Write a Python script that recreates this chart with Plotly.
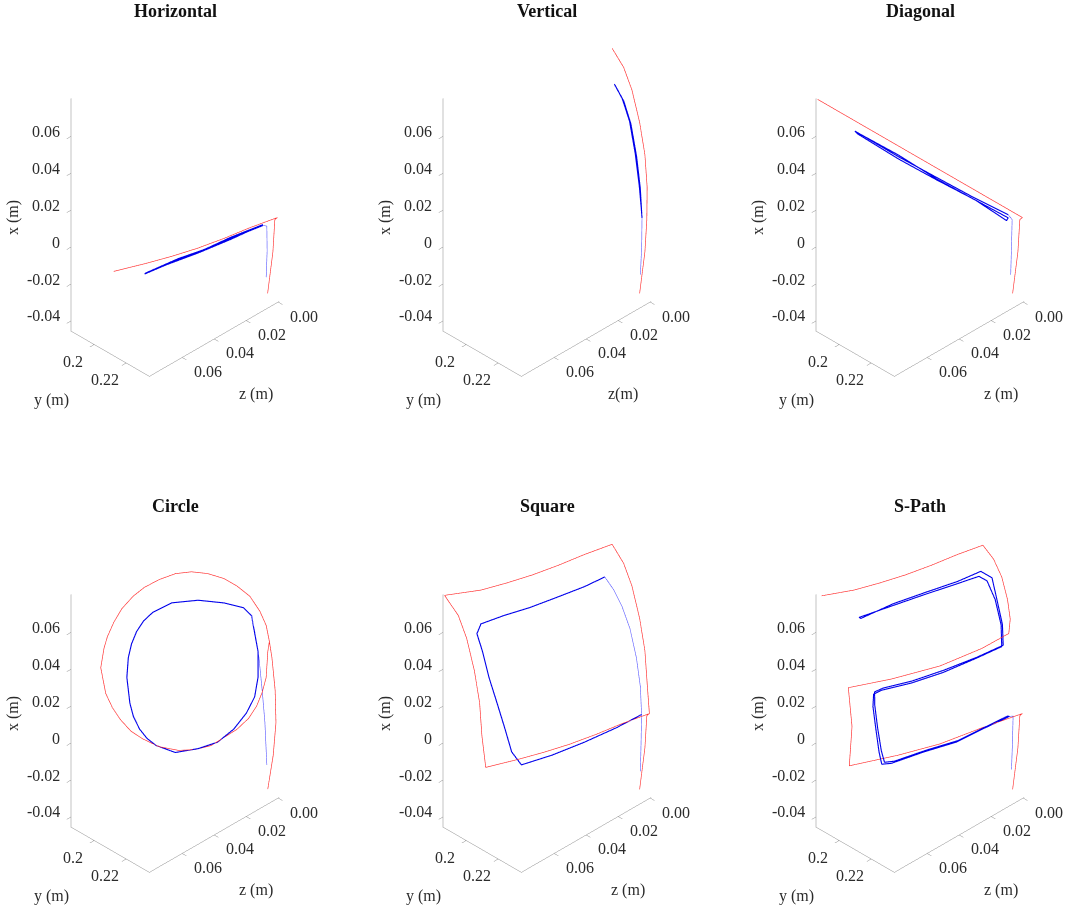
import plotly.graph_objects as go

# ---------------- data (metres) ----------------
APP_REF_X = [-0.0441, -0.0200, -0.0019, 0.0000]
APP_REF_Y = [0.2279, 0.2312, 0.2324, 0.2340]
APP_REF_Z = [0.0, 0.0, 0.0, 0.0]

H_REF_X = [-0.0007, -0.0019, -0.0026, -0.0026, -0.0022, -0.0013]
H_REF_Y = [0.2302, 0.2267, 0.2231, 0.2194, 0.2156, 0.2107]
H_REF_Z = [0.0134, 0.0261, 0.0388, 0.0513, 0.0636, 0.0790]
H_APP_X = [-0.0358, -0.0212, -0.0079, -0.0015]
H_APP_Y = [0.2270, 0.2276, 0.2274, 0.2323]
H_APP_Z = [0.0, 0.0, 0.0, 0.0073]
H_ACT_X = [-0.0015, -0.0027, -0.0043, -0.0053, -0.0067, -0.0064, -0.0045, -0.0041,
           -0.0023, -0.0011, -0.0032, -0.0047, -0.0056, -0.0066]
H_ACT_Y = [0.2323, 0.2279, 0.2236, 0.2191, 0.2164, 0.2165, 0.2208, 0.2244,
           0.2278, 0.2322, 0.2280, 0.2237, 0.2192, 0.2166]
H_ACT_Z = [0.0073, 0.0232, 0.0391, 0.0550, 0.0654, 0.0646, 0.0486, 0.0360,
           0.0231, 0.0072, 0.0233, 0.0392, 0.0550, 0.0646]

V_REF_X = [-0.0441, -0.0200, -0.0019, 0.0157, 0.0326, 0.0485, 0.0636, 0.0733, 0.0800]
V_REF_Y = [0.2279, 0.2312, 0.2324, 0.2326, 0.2312, 0.2279, 0.2231, 0.2179, 0.2107]
V_REF_Z = [0.0] * 9
V_APP_X = [-0.0337, -0.0175, -0.0025]
V_APP_Y = [0.2284, 0.2292, 0.2294]
V_APP_Z = [0.0, 0.0, 0.0]
V_ACT_X = [-0.0025, 0.0134, 0.0297, 0.0455, 0.0555, 0.0613, 0.0550, 0.0450, 0.0290,
           0.0130, 0.0000, 0.0140, 0.0300, 0.0460, 0.0560, 0.0610]
V_ACT_Y = [0.2294, 0.2279, 0.2255, 0.2219, 0.2174, 0.2121, 0.2180, 0.2224, 0.2260,
           0.2283, 0.2292, 0.2277, 0.2252, 0.2216, 0.2170, 0.2125]
V_ACT_Z = [0.0] * 16

D_REF_X = [0.0400, 0.0800]
D_REF_Y = [0.2100, 0.1860]
D_REF_Z = [0.0400, 0.0800]
D_APP_X = [-0.0346, -0.0186, -0.0043, 0.0032]
D_APP_Y = [0.2267, 0.2272, 0.2276, 0.2312]
D_APP_Z = [0.0, 0.0, 0.0, 0.0061]
D_ACT_X = [0.0032, 0.0159, 0.0293, 0.0439, 0.0609, 0.0594, 0.0429, 0.0282, 0.0140,
           0.0008, 0.0018, 0.0152, 0.0286, 0.0446, 0.0603]
D_ACT_Y = [0.2312, 0.2231, 0.2149, 0.2059, 0.1958, 0.1965, 0.2062, 0.2152, 0.2240,
           0.2315, 0.2315, 0.2233, 0.2151, 0.2058, 0.1961]
D_ACT_Z = [0.0061, 0.0203, 0.0344, 0.0497, 0.0664, 0.0656, 0.0499, 0.0346, 0.0192,
           0.0074, 0.0064, 0.0205, 0.0345, 0.0495, 0.0659]

C_REF_X = [-0.0439, -0.0238, -0.0054, 0.0119, 0.0284,
           0.0365, 0.0442, 0.0501, 0.0549, 0.0616, 0.0667, 0.0711, 0.0741, 0.0755,
           0.0751, 0.0737, 0.0713, 0.0674, 0.0625, 0.0570, 0.0524, 0.0443, 0.0323,
           0.0251, 0.0189, 0.0123, 0.0072, 0.0016, -0.0027, -0.0046, -0.0050, -0.0014,
           0.0018, 0.0060, 0.0114, 0.0161, 0.0306, 0.0365]
C_REF_Y = [0.2280, 0.2314, 0.2331, 0.2326, 0.2306,
           0.2290, 0.2270, 0.2229, 0.2168, 0.2140, 0.2109, 0.2075, 0.2045, 0.2019,
           0.1996, 0.1978, 0.1967, 0.1960, 0.1960, 0.1963, 0.1969, 0.1983, 0.2018,
           0.2044, 0.2070, 0.2100, 0.2129, 0.2166, 0.2204, 0.2232, 0.2256, 0.2285,
           0.2294, 0.2296, 0.2292, 0.2270, 0.2280, 0.2290]
C_REF_Z = [0.0, 0.0, 0.0, 0.0, 0.0,
           0.0, 0.0, 0.0, 0.0, 0.0052, 0.0103, 0.0171, 0.0242, 0.0316,
           0.0395, 0.0469, 0.0529, 0.0592, 0.0643, 0.0686, 0.0713, 0.0747, 0.0751,
           0.0735, 0.0712, 0.0676, 0.0630, 0.0565, 0.0481, 0.0406, 0.0331, 0.0198,
           0.0134, 0.0087, 0.0047, 0.0, 0.0, 0.0]
C_APP_X = [-0.0311, -0.0088, 0.0078, 0.0244, 0.0371, 0.0449]
C_APP_Y = [0.2274, 0.2262, 0.2245, 0.2225, 0.2199, 0.2179]
C_APP_Z = [0.0, 0.0, 0.0, 0.0, 0.0, 0.0]
C_ACT_X = [0.0449, 0.0512, 0.0560, 0.0607, 0.0631, 0.0615, 0.0591, 0.0552, 0.0505,
           0.0449, 0.0365, 0.0247, 0.0184, 0.0120, 0.0069, 0.0026, -0.0032, -0.0046,
           -0.0044, -0.0009, 0.0045, 0.0105, 0.0186, 0.0300, 0.0402, 0.0449]
C_ACT_Y = [0.2179, 0.2173, 0.2134, 0.2086, 0.2042, 0.2018, 0.2011, 0.2009, 0.2013,
           0.2021, 0.2039, 0.2070, 0.2090, 0.2114, 0.2136, 0.2159, 0.2200, 0.2236,
           0.2264, 0.2279, 0.2285, 0.2283, 0.2269, 0.2243, 0.2189, 0.2179]
C_ACT_Z = [0.0, 0.0045, 0.0128, 0.0241, 0.0361, 0.0458, 0.0507, 0.0550, 0.0585,
           0.0613, 0.0640, 0.0652, 0.0650, 0.0635, 0.0611, 0.0578, 0.0498, 0.0392,
           0.0298, 0.0212, 0.0138, 0.0085, 0.0050, 0.0024, 0.0, 0.0]

S_REF_X = [-0.0007, -0.0019, -0.0026, -0.0026, -0.0022, -0.0013,
           0.0157, 0.0326, 0.0485, 0.0636, 0.0733, 0.0800,
           0.0778, 0.0774, 0.0774, 0.0781, 0.0793, 0.0800,
           0.0733, 0.0636, 0.0485, 0.0326, 0.0157, 0.0000]
S_REF_Y = [0.2302, 0.2267, 0.2231, 0.2194, 0.2156, 0.2107,
           0.2093, 0.2079, 0.2046, 0.1998, 0.1946, 0.1860,
           0.1923, 0.1961, 0.1998, 0.2034, 0.2069, 0.2107,
           0.2179, 0.2231, 0.2279, 0.2312, 0.2326, 0.2340]
S_REF_Z = [0.0134, 0.0261, 0.0388, 0.0513, 0.0636, 0.0790,
           0.0800, 0.0800, 0.0800, 0.0800, 0.0800, 0.0800,
           0.0636, 0.0513, 0.0388, 0.0261, 0.0134, 0.0,
           0.0, 0.0, 0.0, 0.0, 0.0, 0.0]
S_APP_X = [-0.0341, -0.0181, 0.0006, 0.0115, 0.0261, 0.0398, 0.0496, 0.0558, 0.0662]
S_APP_Y = [0.2284, 0.2288, 0.2327, 0.2284, 0.2259, 0.2219, 0.2168, 0.2118, 0.2123]
S_APP_Z = [0.0, 0.0, 0.0036, 0.0, 0.0, 0.0, 0.0, 0.0, 0.0062]
S_ACT_X = [0.0662, 0.0647, 0.0637, 0.0630, 0.0630, 0.0625, 0.0587, 0.0501, 0.0379,
           0.0254, 0.0128, 0.0020, -0.0051, -0.0050, -0.0037, -0.0017, 0.0006]
S_ACT_Y = [0.2123, 0.2097, 0.2057, 0.2022, 0.1984, 0.1953, 0.1956, 0.1984, 0.2021,
           0.2062, 0.2102, 0.2137, 0.2167, 0.2211, 0.2255, 0.2297, 0.2327]
S_ACT_Z = [0.0062, 0.0162, 0.0305, 0.0431, 0.0556, 0.0666, 0.0694, 0.0687, 0.0684,
           0.0674, 0.0664, 0.0658, 0.0627, 0.0479, 0.0320, 0.0160, 0.0036]

P_REF_X = [-0.0007, -0.0021, -0.0013, -0.0024, 0.0197, 0.0396,
           0.0331, 0.0322, 0.0342, 0.0391,
           0.0473, 0.0571, 0.0675, 0.0746, 0.0788,
           0.0793, 0.0781, 0.0774, 0.0774, 0.0778, 0.0800]
P_REF_Y = [0.2284, 0.2226, 0.2164, 0.2058, 0.2075, 0.2052,
           0.2075, 0.2147, 0.2203, 0.2255,
           0.2264, 0.2247, 0.2211, 0.2160, 0.2093,
           0.2069, 0.2034, 0.1998, 0.1961, 0.1923, 0.1875]
P_REF_Z = [0.0195, 0.0400, 0.0601, 0.0800, 0.0800, 0.0800,
           0.0553, 0.0321, 0.0114, 0.0,
           0.0, 0.0, 0.0, 0.0, 0.0,
           0.0134, 0.0261, 0.0388, 0.0513, 0.0636, 0.0790]
P_APP_X = [-0.0337, -0.0185, -0.0043, 0.0005]
P_APP_Y = [0.2272, 0.2278, 0.2282, 0.2320]
P_APP_Z = [0.0, 0.0, 0.0, 0.0060]
P_ACT_X = [0.0005, -0.0014, -0.0035, -0.0034, -0.0040, -0.0031, 0.0027, 0.0132, 0.0235,
           0.0289, 0.0295, 0.0286, 0.0289, 0.0306, 0.0323, 0.0414, 0.0532, 0.0632,
           0.0663, 0.0660, 0.0657, 0.0652, 0.0646,
           0.0640, 0.0662, 0.0668, 0.0672, 0.0680, 0.0640, 0.0540, 0.0420, 0.0330,
           0.0312, 0.0300, 0.0296, 0.0303, 0.0297, 0.0240, 0.0135, 0.0030, -0.0025,
           -0.0033, -0.0028, -0.0029, -0.0008, 0.0010]
P_ACT_Y = [0.2320, 0.2285, 0.2253, 0.2206, 0.2160, 0.2144, 0.2127, 0.2098, 0.2070,
           0.2059, 0.2069, 0.2113, 0.2159, 0.2202, 0.2236, 0.2207, 0.2170, 0.2143,
           0.2124, 0.2092, 0.2046, 0.2001, 0.1955,
           0.1960, 0.2004, 0.2049, 0.2094, 0.2120, 0.2150, 0.2180, 0.2215, 0.2240,
           0.2205, 0.2160, 0.2115, 0.2070, 0.2058, 0.2072, 0.2100, 0.2130, 0.2148,
           0.2165, 0.2210, 0.2256, 0.2288, 0.2318]
P_ACT_Z = [0.0060, 0.0196, 0.0326, 0.0481, 0.0639, 0.0683, 0.0683, 0.0674, 0.0664,
           0.0649, 0.0608, 0.0470, 0.0314, 0.0154, 0.0025, 0.0, 0.0, 0.0024,
           0.0056, 0.0166, 0.0322, 0.0479, 0.0636,
           0.0630, 0.0470, 0.0315, 0.0160, 0.0040, 0.0, 0.0, 0.0, 0.0020,
           0.0150, 0.0310, 0.0465, 0.0600, 0.0642, 0.0655, 0.0665, 0.0672, 0.0670,
           0.0625, 0.0470, 0.0320, 0.0190, 0.0065]

TITLES = ["Horizontal", "Vertical", "Diagonal", "Circle", "Square", "S-Path"]
Z_TITLES = ["z (m)", "z(m)", "z (m)", "z (m)", "z (m)", "z (m)"]
X_TICKS = [-0.04, -0.02, 0.0, 0.02, 0.04, 0.06]
X_TICKTEXT = ["-0.04", "-0.02", "0", "0.02", "0.04", "0.06"]
Y_TICKS = [0.2, 0.22]
Y_TICKTEXT = ["0.2", "0.22"]
Z_TICKS = [0.0, 0.02, 0.04, 0.06]
Z_TICKTEXT = ["0.00", "0.02", "0.04", "0.06"]
X_RANGE = [-0.0455, 0.0805]
Y_RANGE = [0.1855, 0.2345]
Z_RANGE = [-0.0005, 0.0805]

RED = "rgb(255,45,45)"
BLUE = "rgb(0,0,235)"
LIGHT_BLUE = "rgb(90,90,255)"

panels = [
    (APP_REF_X + H_REF_X, APP_REF_Y + H_REF_Y, APP_REF_Z + H_REF_Z,
     (H_APP_X, H_APP_Y, H_APP_Z), (H_ACT_X, H_ACT_Y, H_ACT_Z)),
    (V_REF_X, V_REF_Y, V_REF_Z,
     (V_APP_X, V_APP_Y, V_APP_Z), (V_ACT_X, V_ACT_Y, V_ACT_Z)),
    (APP_REF_X + D_REF_X, APP_REF_Y + D_REF_Y, APP_REF_Z + D_REF_Z,
     (D_APP_X, D_APP_Y, D_APP_Z), (D_ACT_X, D_ACT_Y, D_ACT_Z)),
    (C_REF_X, C_REF_Y, C_REF_Z,
     (C_APP_X, C_APP_Y, C_APP_Z), (C_ACT_X, C_ACT_Y, C_ACT_Z)),
    (APP_REF_X + S_REF_X, APP_REF_Y + S_REF_Y, APP_REF_Z + S_REF_Z,
     (S_APP_X, S_APP_Y, S_APP_Z), (S_ACT_X, S_ACT_Y, S_ACT_Z)),
    (APP_REF_X + P_REF_X, APP_REF_Y + P_REF_Y, APP_REF_Z + P_REF_Z,
     (P_APP_X, P_APP_Y, P_APP_Z), (P_ACT_X, P_ACT_Y, P_ACT_Z)),
]

FONT = "Liberation Serif"
TXT = "#2b2b2b"
W, H = 1065, 911

fig = go.Figure()

col_c = [175, 547, 920]
row_c = [200, 696]
half_w, half_h = 140, 190


def label(x, y, z, text, **kw):
    d = dict(x=x, y=y, z=z, text=text, showarrow=False,
             font=dict(family=FONT, size=16, color=TXT))
    d.update(kw)
    return d


for i, (rx, ry, rz, app, act) in enumerate(panels):
    sid = "scene" if i == 0 else f"scene{i + 1}"
    # plotly x <- z (m), plotly y <- y (m), plotly z <- x (m)
    fig.add_trace(go.Scatter3d(x=rz, y=ry, z=rx, mode="lines",
                               line=dict(color=RED, width=1.3),
                               hoverinfo="skip", showlegend=False, scene=sid))
    fig.add_trace(go.Scatter3d(x=app[2], y=app[1], z=app[0], mode="lines",
                               line=dict(color=LIGHT_BLUE, width=1.2),
                               hoverinfo="skip", showlegend=False, scene=sid))
    fig.add_trace(go.Scatter3d(x=act[2], y=act[1], z=act[0], mode="lines",
                               line=dict(color=BLUE, width=2.2),
                               hoverinfo="skip", showlegend=False, scene=sid))

    c, r = i % 3, i // 3
    cx, cy = col_c[c], row_c[r]
    common = dict(showgrid=False, showbackground=False, zeroline=False,
                  showline=True, linecolor="#8a8a8a", linewidth=1,
                  ticks="outside", ticklen=6, tickcolor="#8a8a8a",
                  showspikes=False, showticklabels=False, title=dict(text=""))

    zx, zy0, zy1, zz = Z_RANGE[1], Y_RANGE[0], Y_RANGE[1], X_RANGE[0]
    anns = []
    for v, t in zip(X_TICKS, X_TICKTEXT):
        anns.append(label(zx, zy0, v, t, xanchor="right", yanchor="middle",
                          xshift=-9, yshift=5))
    for v, t in zip(Y_TICKS, Y_TICKTEXT):
        anns.append(label(zx, v, zz, t, xanchor="center", yanchor="middle",
                          xshift=-21, yshift=-17))
    for v, t in zip(Z_TICKS, Z_TICKTEXT):
        anns.append(label(v, zy1, zz, t, xanchor="center", yanchor="middle",
                          xshift=26, yshift=-14))
    anns.append(label(zx, zy0, 0.0157, "x (m)", xanchor="center", yanchor="middle",
                      textangle=-90, xshift=-58))
    anns.append(label(zx, 0.21, zz, "y (m)", xanchor="center", yanchor="middle",
                      xshift=-59, yshift=-46))
    anns.append(label(0.04, zy1, zz, Z_TITLES[i], xanchor="center", yanchor="middle",
                      xshift=42 if i != 1 else 37, yshift=-55))

    scene = dict(
        domain=dict(x=[max(0, (cx - half_w) / W), min(1, (cx + half_w) / W)],
                    y=[1 - (cy + half_h) / H, 1 - (cy - half_h) / H]),
        xaxis=dict(common, range=Z_RANGE, tickvals=Z_TICKS),
        yaxis=dict(common, range=Y_RANGE, tickvals=Y_TICKS),
        zaxis=dict(common, range=X_RANGE, tickvals=X_TICKS),
        aspectmode="manual",
        aspectratio=dict(x=0.9645, y=0.5835, z=1.5),
        camera=dict(eye=dict(x=1.2, y=1.2, z=1.2), up=dict(x=0, y=0, z=1),
                    center=dict(x=0, y=0, z=0),
                    projection=dict(type="orthographic")),
        annotations=anns,
        dragmode=False,
    )
    fig.update_layout(**{sid: scene})
    fig.add_annotation(text=f"<b>{TITLES[i]}</b>", x=cx / W,
                       y=1 - (11 if r == 0 else 506) / H,
                       xref="paper", yref="paper", showarrow=False,
                       xanchor="center", yanchor="middle",
                       font=dict(family=FONT, size=18, color="#111"))

fig.update_layout(width=W, height=H, margin=dict(l=0, r=0, t=0, b=0),
                  paper_bgcolor="white", plot_bgcolor="white")
fig.write_html("out.html", config={"displayModeBar": False},
               post_script="document.body.style.margin='0px';")
